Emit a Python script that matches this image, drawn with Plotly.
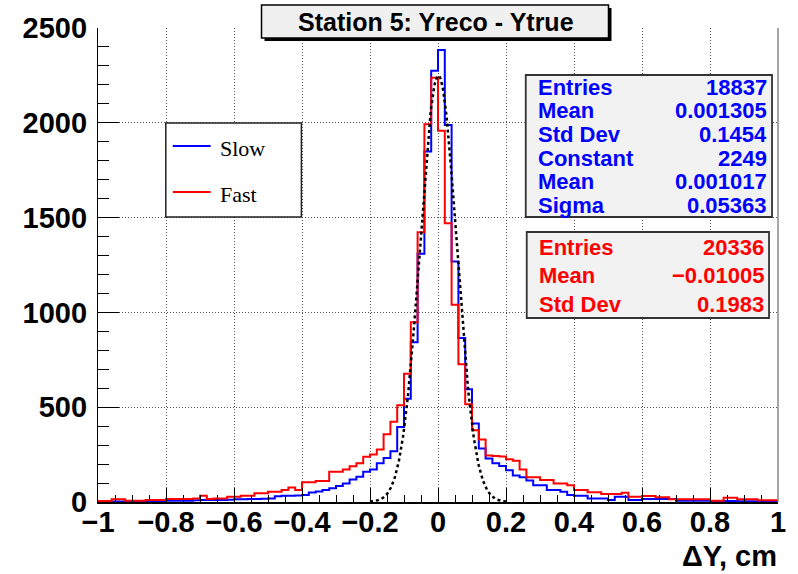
import numpy as np
import plotly.graph_objects as go

# ---------------- data ----------------
x_min, x_max, n_bins = -1.0, 1.0, 100

slow_counts = [
    3, 3, 3, 3, 4, 4, 4, 4, 4, 5,
    6, 6, 7, 7, 9, 10, 10, 11, 11, 12,
    14, 15, 16, 16, 17, 19, 30, 33, 33, 34,
    37, 50, 55, 63, 72, 84, 98, 119, 133, 160,
    172, 204, 232, 268, 395, 544, 842, 1309, 1849, 2274,
    2384, 1988, 1268, 865, 595, 414, 282, 230, 205, 190,
    168, 140, 130, 113, 89, 89, 63, 63, 54, 37,
    33, 33, 19, 19, 19, 11, 28, 28, 11, 11,
    16, 16, 16, 16, 16, 7, 7, 6, 6, 6,
    5, 5, 5, 5, 4, 4, 4, 4, 3, 3,
]

fast_counts = [
    5, 5, 14, 14, 7, 7, 7, 11, 11, 11,
    16, 16, 16, 16, 19, 33, 16, 19, 19, 28,
    28, 33, 33, 46, 46, 54, 54, 63, 77, 63,
    104, 104, 111, 111, 160, 160, 172, 189, 204, 239,
    250, 277, 357, 423, 510, 677, 948, 1423, 1993, 2238,
    1958, 1470, 1040, 726, 516, 379, 330, 245, 243, 240,
    225, 218, 172, 130, 130, 116, 116, 98, 98, 89,
    63, 63, 51, 51, 42, 42, 42, 49, 28, 28,
    31, 31, 25, 25, 14, 14, 14, 14, 14, 14,
    7, 7, 23, 23, 14, 14, 14, 9, 9, 9,
]

# Gaussian fit parameters (from the stats box)
fit_constant = 2249
fit_mean = 0.001017
fit_sigma = 0.05363
fit_range = [-0.2, 0.2]

x_tick_vals = [-1, -0.8, -0.6, -0.4, -0.2, 0, 0.2, 0.4, 0.6, 0.8, 1]
x_tick_text = ["\u22121", "\u22120.8", "\u22120.6", "\u22120.4", "\u22120.2", "0",
               "0.2", "0.4", "0.6", "0.8", "1"]
y_tick_vals = [0, 500, 1000, 1500, 2000, 2500]
y_tick_text = ["0", "500", "1000", "1500", "2000", "2500"]

title_text = "Station 5: Yreco - Ytrue"
x_title = "\u0394Y, cm"
legend_labels = ["Slow", "Fast"]

slow_stats = [("Entries", "18837"), ("Mean", "0.001305"), ("Std Dev", "0.1454"),
              ("Constant", "2249"), ("Mean", "0.001017"), ("Sigma", "0.05363")]
fast_stats = [("Entries", "20336"), ("Mean", "\u22120.01005"), ("Std Dev", "0.1983")]

# ---------------- geometry helpers (layout only) ----------------
W, H = 798, 574
L, R, T, B = 98, 18, 28, 72
PW, PH = W - L - R, H - T - B


def px(xp):
    return (xp - L) / PW


def py(yp):
    return (H - B - yp) / PH


BLUE = "#0000ff"
RED = "#ff0000"
SANS = "Liberation Sans"
SERIF = "Liberation Serif"

edges = np.linspace(x_min, x_max, n_bins + 1)

fig = go.Figure()


def hist_trace(counts, color, name):
    yv = list(counts) + [counts[-1]]
    return go.Scatter(x=edges, y=yv, mode="lines", line=dict(color=color, width=2, shape="hv"),
                      name=name, showlegend=False, hoverinfo="skip")


fig.add_trace(hist_trace(slow_counts, BLUE, "Slow"))
fig.add_trace(hist_trace(fast_counts, RED, "Fast"))

xf = np.linspace(fit_range[0], fit_range[1], 400)
yf = fit_constant * np.exp(-0.5 * ((xf - fit_mean) / fit_sigma) ** 2)
fig.add_trace(go.Scatter(x=xf, y=yf, mode="lines", line=dict(color="black", width=2.5, dash="dot"),
                         showlegend=False, hoverinfo="skip"))

shapes = []
annotations = []

# right frame edge (grey)
shapes.append(dict(type="line", xref="paper", yref="paper", x0=1, x1=1, y0=0, y1=1,
                   line=dict(color="#888888", width=1.5)))

# title box with shadow
shapes.append(dict(type="rect", xref="paper", yref="paper",
                   x0=px(265), x1=px(613), y0=py(41), y1=py(8),
                   fillcolor="black", line=dict(width=0), layer="above"))
shapes.append(dict(type="rect", xref="paper", yref="paper",
                   x0=px(262), x1=px(610), y0=py(38), y1=py(5),
                   fillcolor="#f0f0f0", line=dict(color="black", width=1.5), layer="above"))
annotations.append(dict(xref="paper", yref="paper", x=px(437), y=py(22), text="<b>%s</b>" % title_text,
                        showarrow=False, xanchor="center", yanchor="middle",
                        font=dict(family=SANS, size=25, color="black")))

# legend box
shapes.append(dict(type="rect", xref="paper", yref="paper",
                   x0=px(166), x1=px(302), y0=py(217), y1=py(123),
                   fillcolor="white", line=dict(color="#222222", width=1.5), layer="above"))
for i, (lab, col) in enumerate(zip(legend_labels, [BLUE, RED])):
    yy = [146, 192][i]
    shapes.append(dict(type="line", xref="paper", yref="paper", x0=px(173), x1=px(211),
                       y0=py(yy), y1=py(yy), line=dict(color=col, width=2), layer="above"))
    annotations.append(dict(xref="paper", yref="paper", x=px(218), y=py(yy + 2), text=lab,
                            showarrow=False, xanchor="left", yanchor="middle",
                            font=dict(family=SERIF, size=22, color="black")))

# stats boxes


def stat_box(x0, x1, y0, y1, rows, ys, color, lx, rx):
    shapes.append(dict(type="rect", xref="paper", yref="paper",
                       x0=px(x0), x1=px(x1), y0=py(y1), y1=py(y0),
                       fillcolor="#f2f2f2", line=dict(color="#333333", width=1.8), layer="above"))
    for (lab, val), yy in zip(rows, ys):
        annotations.append(dict(xref="paper", yref="paper", x=px(lx), y=py(yy), text="<b>%s</b>" % lab,
                                showarrow=False, xanchor="left", yanchor="middle",
                                font=dict(family=SANS, size=22, color=color)))
        annotations.append(dict(xref="paper", yref="paper", x=px(rx), y=py(yy), text="<b>%s</b>" % val,
                                showarrow=False, xanchor="right", yanchor="middle",
                                font=dict(family=SANS, size=22, color=color)))


stat_box(527, 774, 75, 217, slow_stats, [87.5, 111, 134.5, 158, 181.5, 205], BLUE, 537, 771)
stat_box(528, 771, 232, 318, fast_stats, [247, 275.5, 304], RED, 538, 768)

# x-axis title
annotations.append(dict(xref="paper", yref="paper", x=px(781), y=py(556), text="<b>%s</b>" % x_title,
                        showarrow=False, xanchor="right", yanchor="middle",
                        font=dict(family=SANS, size=29, color="black")))

fig.update_layout(
    width=W, height=H, autosize=False,
    margin=dict(l=L, r=R, t=T, b=B, pad=0),
    paper_bgcolor="white", plot_bgcolor="white",
    showlegend=False,
    shapes=shapes, annotations=annotations,
)

fig.update_xaxes(
    range=[x_min, x_max], tickmode="array", tickvals=x_tick_vals, ticktext=x_tick_text,
    ticks="inside", ticklen=14, tickwidth=1.2, tickcolor="black",
    minor=dict(dtick=0.05, tick0=0, ticks="inside", ticklen=7, tickwidth=1.2, tickcolor="black", showgrid=False),
    showgrid=True, gridcolor="#555555", gridwidth=1, griddash="1px,2px",
    showline=True, linecolor="black", linewidth=1.5, mirror=False,
    zeroline=False, tickfont=dict(family=SANS, size=29, color="black", weight="bold"),
    ticklabelstandoff=-7,
)
fig.update_yaxes(
    range=[0, 2500], tickmode="array", tickvals=y_tick_vals, ticktext=y_tick_text,
    ticks="inside", ticklen=21, tickwidth=1.2, tickcolor="black",
    minor=dict(dtick=100, tick0=0, ticks="inside", ticklen=11, tickwidth=1.2, tickcolor="black", showgrid=False),
    showgrid=True, gridcolor="#555555", gridwidth=1, griddash="1px,2px",
    showline=True, linecolor="black", linewidth=1.2, mirror=False,
    zeroline=False, tickfont=dict(family=SANS, size=29, color="black", weight="bold"),
    ticklabelstandoff=4,
)

fig.write_html("out.html")
